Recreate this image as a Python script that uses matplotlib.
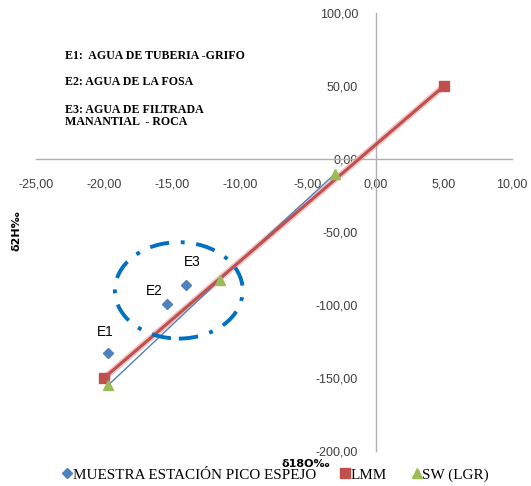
import matplotlib.pyplot as plt
from matplotlib.patches import Ellipse
from matplotlib.lines import Line2D
from matplotlib.ticker import FuncFormatter

# muestras (diamantes azules)
muestra_x = [-19.7, -15.4, -14.0]
muestra_y = [-133, -99, -86]
muestra_lbl = ["E1", "E2", "E3"]

# linea meteorica mundial
lmm_x = [-20, 5]
lmm_y = [-150, 50]

# SW (LGR)
sw_x = [-19.7, -11.5, -3.0]
sw_y = [-155, -83, -10]

notas = ["E1:  AGUA DE TUBERIA -GRIFO",
         "E2: AGUA DE LA FOSA",
         "E3: AGUA DE FILTRADA\nMANANTIAL  - ROCA"]
series = ['MUESTRA ESTACIÓN PICO ESPEJO', 'LMM', 'SW (LGR)']

azul = '#4f81bd'
rojo = '#c0504d'
verde = '#9bbb59'

fig = plt.figure(figsize=(5.31, 4.86), dpi=100)
ax = fig.add_axes([36/531, 1-451/486, 476/531, 438/486])
ax.set_xlim(-25, 10)
ax.set_ylim(-200, 100)

for s in ['top', 'right']:
    ax.spines[s].set_visible(False)
ax.spines['left'].set_position(('data', 0))
ax.spines['bottom'].set_position(('data', 0))
for s in ['left', 'bottom']:
    ax.spines[s].set_color('#b0b0b0')
    ax.spines[s].set_linewidth(1.0)

ax.set_xticks(range(-25, 11, 5))
ax.set_yticks(range(-200, 101, 50))
fmt = FuncFormatter(lambda v, p: f"{v:.2f}".replace('.', ','))
ax.xaxis.set_major_formatter(fmt)
ax.yaxis.set_major_formatter(fmt)
ax.tick_params(length=0, labelsize=9, colors='#404040')
ax.tick_params(axis='x', pad=14)
ax.tick_params(axis='y', pad=13)
for t in ax.get_xticklabels() + ax.get_yticklabels():
    t.set_family('Liberation Sans')

# series
ax.plot(lmm_x, lmm_y, color='#f2c4c3', lw=4.5, zorder=2, solid_capstyle='butt')
ax.plot(lmm_x, lmm_y, color=rojo, lw=2.2, marker='s', ms=7, zorder=3)
ax.plot(sw_x, sw_y, color=azul, lw=1, zorder=2)
ax.plot(sw_x, sw_y, ls='none', color=verde, marker='^', ms=7, zorder=4)
ax.plot(muestra_x, muestra_y, ls='none', color=azul, marker='D', ms=5, zorder=4)

offs = [(-0.2, 10), (-0.9, 4), (0.5, 11)]
for x, y, l, (dx, dy) in zip(muestra_x, muestra_y, muestra_lbl, offs):
    ax.text(x + dx, y + dy, l, fontsize=9.8, family='Liberation Sans', ha='center', va='bottom')

ell = Ellipse((-14.5, -90), 9.4, 66, fill=False, ec='#0070c0', lw=2.8,
              ls=(0, (5, 3, 1, 3)), zorder=5)
ax.add_patch(ell)

# notas
ys = [56, 82, 116]
for n, y in zip(notas, ys):
    fig.text(65/531, 1 - y/486, n, fontsize=8.6, family='Liberation Serif',
             fontweight='bold', va='center', linespacing=1.1)

fig.text(16/531, 1 - 231/486, 'δ2H‰', rotation=90, fontsize=8, fontweight='bold',
         family='DejaVu Sans', ha='center', va='center')
fig.text(306/531, 1 - 464/486, 'δ18O‰', fontsize=8, fontweight='bold',
         family='DejaVu Sans', ha='center', va='center')

handles = [Line2D([], [], ls='none', marker='D', ms=5, color=azul),
           Line2D([], [], ls='none', marker='s', ms=7, color=rojo),
           Line2D([], [], ls='none', marker='^', ms=7, color=verde)]
fig.legend(handles, series, loc='center',
           bbox_to_anchor=(276/531, 1 - 475/486), ncol=3, frameon=False,
           prop={'family': 'Liberation Serif', 'size': 10.9},
           handlelength=0.5, handletextpad=0.1, columnspacing=1.7)

fig.savefig('out.png', dpi=100)
